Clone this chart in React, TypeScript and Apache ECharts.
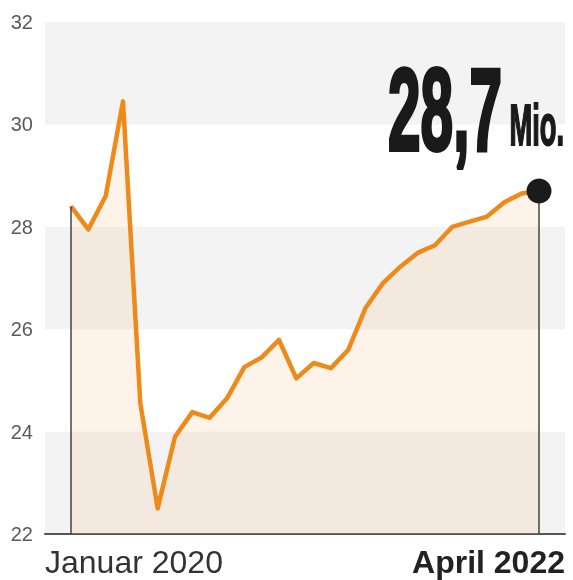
import React, { useEffect, useRef } from "react";
import * as echarts from "echarts";

// Monthly values, Januar 2020 .. April 2022 (Mio.)
const months = [
  "2020-01", "2020-02", "2020-03", "2020-04", "2020-05", "2020-06", "2020-07",
  "2020-08", "2020-09", "2020-10", "2020-11", "2020-12", "2021-01", "2021-02",
  "2021-03", "2021-04", "2021-05", "2021-06", "2021-07", "2021-08", "2021-09",
  "2021-10", "2021-11", "2021-12", "2022-01", "2022-02", "2022-03", "2022-04",
];
const values = [
  28.4, 27.95, 28.6, 30.45, 24.55, 22.5, 23.9, 24.38, 24.27, 24.65, 25.26,
  25.45, 25.79, 25.04, 25.34, 25.24, 25.6, 26.42, 26.9, 27.22, 27.49, 27.64,
  28.0, 28.1, 28.2, 28.48, 28.65, 28.7,
];
const xLabels = ["Januar 2020", "April 2022"];
const yMin = 22;
const yMax = 32;
const yStep = 2;
const unit = "Mio.";

const FONT = '"Liberation Sans", Arial, Helvetica, sans-serif';

export default function App() {
  const ref = useRef<HTMLDivElement>(null);

  useEffect(() => {
    if (!ref.current) return;
    const chart = echarts.init(ref.current, null, { renderer: "svg" });
    const last = values.length - 1;
    const xMin = -1.5;
    const xMax = last + 1.5;
    const lastText = values[last].toFixed(1).replace(".", ",");

    chart.setOption({
      animation: false,
      grid: { left: 45, right: 8, top: 22, bottom: 46, containLabel: false },
      xAxis: {
        type: "value",
        min: xMin,
        max: xMax,
        splitLine: { show: false },
        axisTick: { show: false },
        axisLine: { show: true, lineStyle: { color: "#555", width: 2 } },
        axisLabel: {
          customValues: [xMin, xMax],
          alignMinLabel: "left",
          alignMaxLabel: "right",
          showMinLabel: true,
          showMaxLabel: true,
          margin: 12,
          formatter: (v: number) =>
            v < 0 ? "{a|" + xLabels[0] + "}" : "{b|" + xLabels[1] + "}",
          rich: {
            a: { fontFamily: FONT, fontSize: 32, color: "#333", fontWeight: "normal" },
            b: { fontFamily: FONT, fontSize: 32, color: "#222", fontWeight: "bold" },
          },
        },
      },
      yAxis: {
        type: "value",
        min: yMin,
        max: yMax,
        interval: yStep,
        axisLine: { show: false },
        axisTick: { show: false },
        splitLine: { show: false },
        splitArea: { show: true, areaStyle: { color: ["#f3f3f3", "#ffffff"] } },
        axisLabel: { fontFamily: FONT, fontSize: 20, color: "#5a5a5a", margin: 12 },
      },
      series: [
        {
          type: "line",
          data: values.map((v, i) => [i, v]),
          symbol: "none",
          lineStyle: { color: "#ee8a1a", width: 4.5, join: "round" },
          areaStyle: { color: "rgba(245,190,135,0.27)", origin: "start" },
          markLine: {
            silent: true,
            symbol: "none",
            label: { show: false },
            lineStyle: { color: "#444", width: 1.5, type: "solid" },
            data: [
              [{ coord: [0, yMin] }, { coord: [0, values[0]] }],
              [{ coord: [last, yMin] }, { coord: [last, values[last]] }],
            ],
          },
          z: 2,
        },
        {
          type: "scatter",
          data: [[last, values[last]]],
          symbol: "circle",
          symbolSize: 25,
          itemStyle: { color: "#1b1b1b", opacity: 1 },
          z: 5,
        },
      ],
      graphic: [
        {
          type: "text",
          x: 502,
          y: 110,
          scaleX: 0.505,
          z: 100,
          style: {
            text: lastText,
            font: "bold 116px " + FONT,
            fill: "#1a1a1a",
            stroke: "#1a1a1a",
            lineWidth: 4,
            align: "right",
            verticalAlign: "middle",
            textAlign: "right",
            textVerticalAlign: "middle",
          },
        },
        {
          type: "text",
          x: 564,
          y: 125,
          scaleX: 0.47,
          z: 100,
          style: {
            text: unit,
            font: "bold 58px " + FONT,
            fill: "#1a1a1a",
            stroke: "#1a1a1a",
            lineWidth: 2,
            align: "right",
            verticalAlign: "middle",
            textAlign: "right",
            textVerticalAlign: "middle",
          },
        },
      ],
    });
    return () => chart.dispose();
  }, []);

  return (
    <div
      ref={ref}
      style={{ position: "fixed", left: 0, top: 0, width: 573, height: 580 }}
    />
  );
}
